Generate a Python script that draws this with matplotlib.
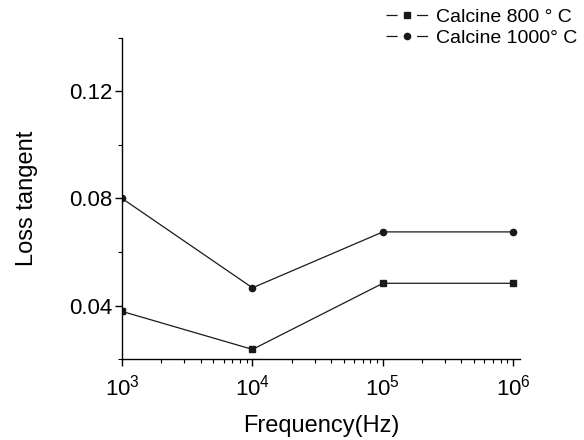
import matplotlib
matplotlib.use("Agg")
import matplotlib.pyplot as plt
from matplotlib.ticker import MultipleLocator, LogLocator, NullFormatter

plt.rcParams['font.family'] = ['Liberation Sans', 'DejaVu Sans']
plt.rcParams['lines.scale_dashes'] = False

# Loss tangent vs frequency for the two calcination temperatures
freq = [1e3, 1e4, 1e5, 1e6]
loss_800 = [0.0378, 0.0236, 0.0483, 0.0483]
loss_1000 = [0.0800, 0.0466, 0.0675, 0.0675]
labels = ['Calcine 800 ° C', 'Calcine 1000° C']

fig = plt.figure(figsize=(5.84, 4.4), dpi=100)
ax = fig.add_axes([0.209, 0.184, 0.681, 0.730])

ax.plot(freq, loss_800, color='#1a1a1a', lw=0.9, marker='s', ms=4.5, label=labels[0])
ax.plot(freq, loss_1000, color='#1a1a1a', lw=0.9, marker='o', ms=4.5, label=labels[1])

ax.set_xscale('log')
ax.set_xlim(1e3, 1.12e6)
ax.set_ylim(0.02, 0.14)
ax.yaxis.set_major_locator(MultipleLocator(0.04))
ax.yaxis.set_minor_locator(MultipleLocator(0.02))
ax.yaxis.set_major_formatter(plt.FuncFormatter(lambda v, p: f'{v:.2f}'))
ax.xaxis.set_major_locator(LogLocator(base=10, numticks=10))
ax.xaxis.set_minor_locator(LogLocator(base=10, subs=range(2, 10), numticks=20))
ax.xaxis.set_minor_formatter(NullFormatter())

for side in ('top', 'right'):
    ax.spines[side].set_visible(False)
for side in ('left', 'bottom'):
    ax.spines[side].set_linewidth(1.0)
ax.tick_params(which='major', direction='out', length=5, width=1.0, labelsize=16)
ax.tick_params(axis='x', which='major', pad=6)
ax.tick_params(axis='y', which='major', pad=2)
ax.tick_params(which='minor', direction='out', length=3, width=0.8)

ax.set_xlabel('Frequency(Hz)', fontsize=17, labelpad=11)
ax.set_ylabel('Loss tangent', fontsize=17, labelpad=22)

leg = ax.legend(loc='upper right', bbox_to_anchor=(1.165, 1.115), frameon=False, fontsize=14,
                handlelength=2.2, handletextpad=0.4, labelspacing=0.15, borderaxespad=0)
# broken handle line: dash, marker, dash
for line in leg.get_lines():
    line.set_linestyle((0, (8, 14)))

fig.savefig('out.png', dpi=100, facecolor='white')
